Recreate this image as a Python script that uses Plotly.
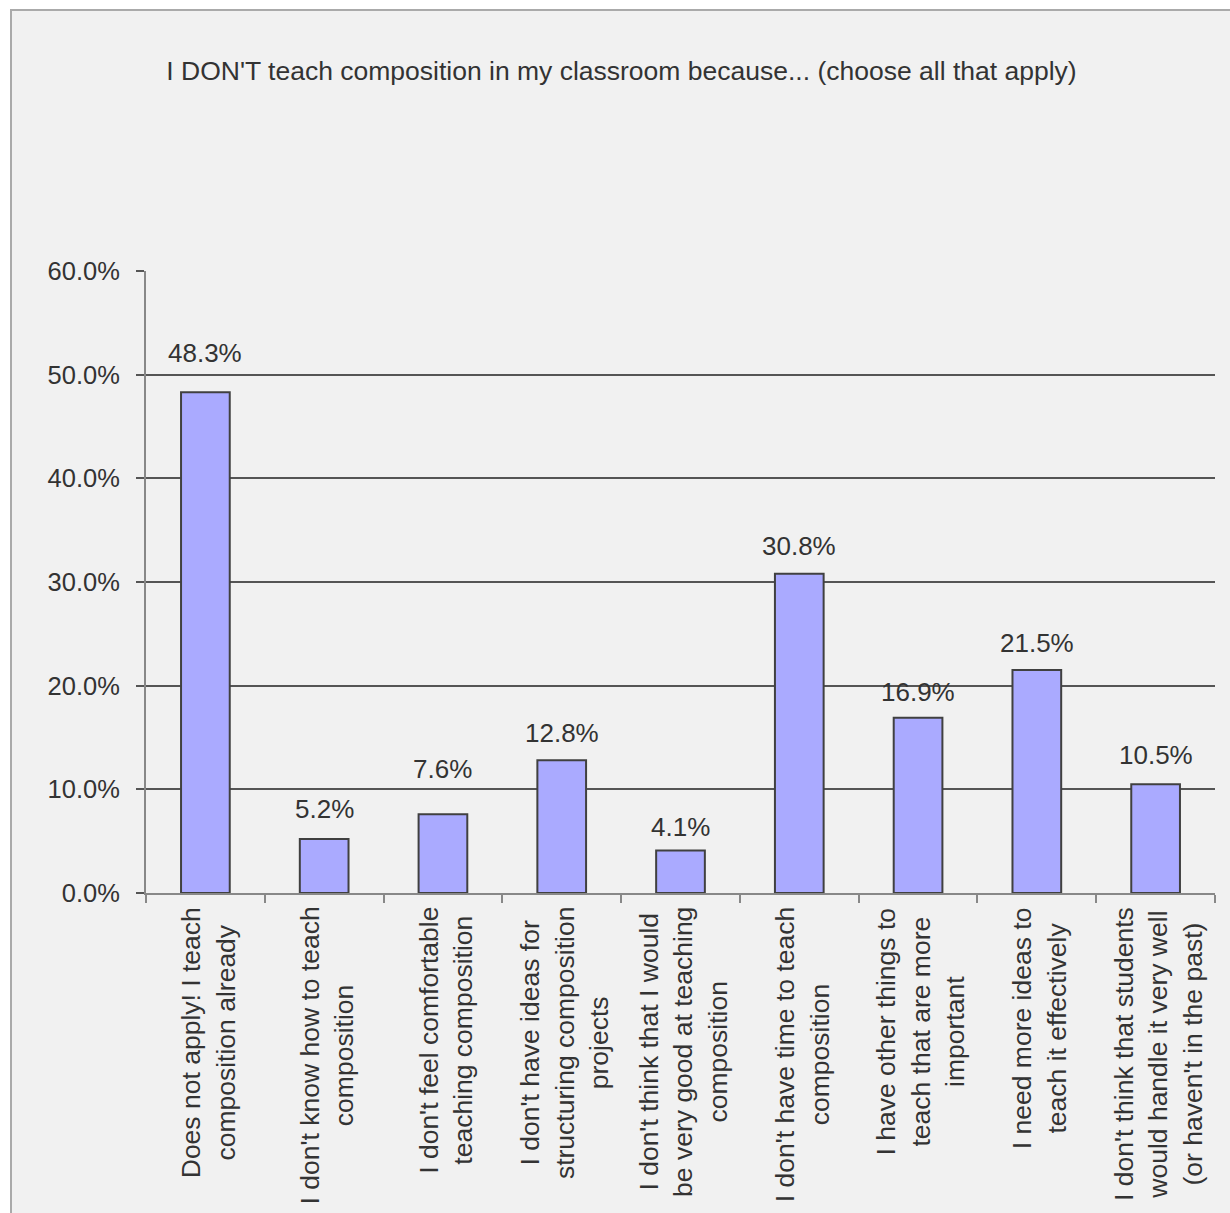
import plotly.graph_objects as go

categories = [
    "Does not apply! I teach<br>composition already",
    "I don't know how to teach<br>composition",
    "I don't feel comfortable<br>teaching composition",
    "I don't have ideas for<br>structuring composition<br>projects",
    "I don't think that I would<br>be very good at teaching<br>composition",
    "I don't have time to teach<br>composition",
    "I have other things to<br>teach that are more<br>important",
    "I need more ideas to<br>teach it effectively",
    "I don't think that students<br>would handle it very well<br>(or haven't in the past)",
]
values = [48.3, 5.2, 7.6, 12.8, 4.1, 30.8, 16.9, 21.5, 10.5]
y_ticks = [0, 10, 20, 30, 40, 50, 60]
y_tick_labels = ["0.0%", "10.0%", "20.0%", "30.0%", "40.0%", "50.0%", "60.0%"]
title_text = "I DON'T teach composition in my classroom because... (choose all that apply)"

# pixel offsets of the value labels above each bar (styling only)
label_shift = [22, 13, 28, 10, 7, 11, 9, 10, 12]

FONT = "Liberation Sans, Arial, sans-serif"
TXT = "#333333"

W, H = 1230, 1213
L, R, T, B = 146, 15, 271, 320
pw, ph = W - L - R, H - T - B


def px_to_paper_x(px):
    return (px - L) / pw


def px_to_paper_y(py):
    return (H - B - py) / ph


fig = go.Figure()
fig.add_trace(go.Bar(
    x=list(range(len(categories))),
    y=values,
    marker=dict(color="#aaaaff", line=dict(color="#404040", width=2)),
    width=0.41,
    hoverinfo="skip",
))

annotations = []
for i, (c, v) in enumerate(zip(categories, values)):
    annotations.append(dict(
        x=i, y=v, xref="x", yref="y", text=f"{v:.1f}%", showarrow=False,
        yanchor="bottom", yshift=label_shift[i], font=dict(family=FONT, size=26, color=TXT),
    ))
    annotations.append(dict(
        x=i + 0.02, y=0, xref="x", yref="y", text=c, showarrow=False, textangle=-90,
        yanchor="top", xanchor="center", yshift=-12, align="center",
        font=dict(family=FONT, size=26.5, color=TXT),
    ))

fig.add_shape(
    type="rect", xref="paper", yref="paper", layer="below",
    x0=px_to_paper_x(11), x1=px_to_paper_x(1245),
    y0=px_to_paper_y(1230), y1=px_to_paper_y(10),
    fillcolor="#f1f1f1", line=dict(color="#aaaaaa", width=2),
)

fig.update_layout(
    width=W, height=H,
    margin=dict(l=L, r=R, t=T, b=B, autoexpand=False),
    paper_bgcolor="white",
    plot_bgcolor="rgba(0,0,0,0)",
    showlegend=False,
    title=dict(
        text=title_text, x=(621.5 / W), xanchor="center", xref="container",
        y=1 - 71 / H, yref="container", yanchor="middle",
        font=dict(family=FONT, size=26.5, color=TXT),
    ),
    annotations=annotations,
    xaxis=dict(
        type="linear", range=[-0.5, len(categories) - 0.5],
        tickmode="array", tickvals=[i - 0.5 for i in range(len(categories) + 1)],
        showticklabels=False, ticks="outside", ticklen=8, tickcolor="#888888", tickwidth=2,
        showline=True, linecolor="#888888", linewidth=2, showgrid=False, zeroline=False,
        fixedrange=True,
    ),
    yaxis=dict(
        range=[0, 60], tickmode="array", tickvals=y_ticks, ticktext=y_tick_labels,
        ticks="outside", ticklen=8, tickcolor="#555555", tickwidth=2,
        showline=True, linecolor="#888888", linewidth=2,
        showgrid=True, gridcolor="#555555", gridwidth=1.5, zeroline=False,
        ticklabelstandoff=11,
        tickfont=dict(family=FONT, size=25.5, color=TXT),
    ),
)

fig.write_html("out.html")
